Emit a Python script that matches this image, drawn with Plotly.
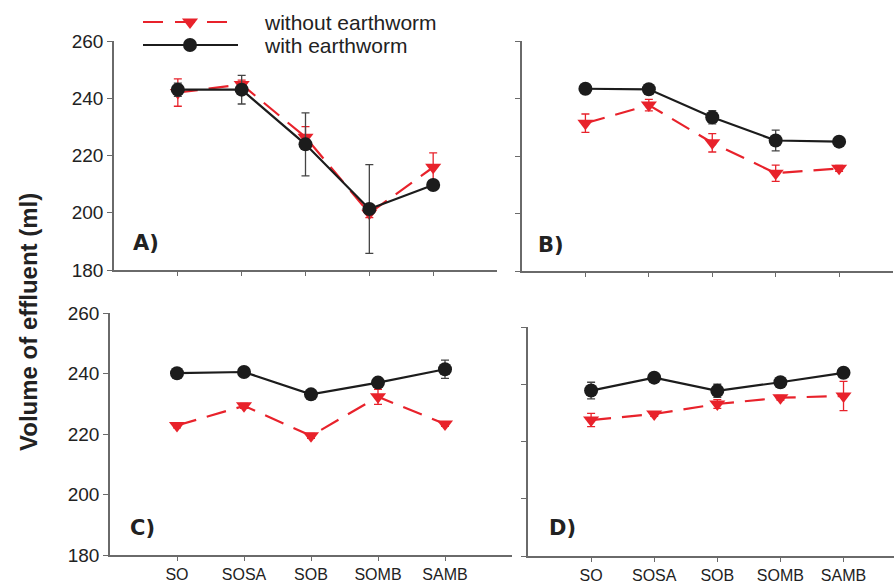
import plotly.graph_objects as go

categories = ["SO", "SOSA", "SOB", "SOMB", "SAMB"]
y_ticks = [180, 200, 220, 240, 260]

# Panel A
A_without = [242.0, 244.8, 226.4, 199.8, 215.9]
A_without_err = [4.8, 1.5, 3.7, 1.5, 5.0]
A_with = [243.0, 243.0, 223.9, 201.3, 209.7]
A_with_err = [2.3, 5.0, 11.0, 15.5, 0.8]
# Panel B
B_without = [231.4, 237.7, 224.6, 214.0, 215.7]
B_without_err = [3.2, 2.0, 3.2, 2.8, 1.0]
B_with = [243.4, 243.2, 233.5, 225.4, 225.0]
B_with_err = [0.8, 0.8, 2.3, 3.6, 0.8]
# Panel C
C_without = [222.8, 229.3, 219.4, 232.3, 223.3]
C_without_err = [0.8, 0.8, 0.8, 2.5, 0.8]
C_with = [240.1, 240.5, 233.1, 237.0, 241.4]
C_with_err = [1.0, 0.8, 1.2, 1.2, 3.0]
# Panel D
D_without = [227.5, 229.6, 233.1, 235.3, 235.9]
D_without_err = [2.3, 0.8, 1.5, 0.8, 5.1]
D_with = [237.8, 242.3, 237.7, 240.7, 244.0]
D_with_err = [2.9, 0.8, 2.3, 0.8, 1.5]

legend_names = ["without earthworm", "with earthworm"]
panel_labels = ["A)", "B)", "C)", "D)"]

RED = "#e8222b"
BLACK = "#1c1c1c"
AXIS = "#6a6a6a"
W, H = 895, 584

def px_x(p):
    return p / W

def px_y(p):
    return 1 - p / H

fig = go.Figure()

panels = [
    (A_without, A_without_err, A_with, A_with_err),
    (B_without, B_without_err, B_with, B_with_err),
    (C_without, C_without_err, C_with, C_with_err),
    (D_without, D_without_err, D_with, D_with_err),
]
# pixel boxes (left, right, top, bottom)
boxes = [(114, 497, 41, 270), (522, 893, 41, 271), (110, 512, 313, 555), (528, 894, 327, 556)]
xranges = [[-1, 5.0], [-1, 4.85], [-1, 5.0], [-1, 4.8]]
xs = list(range(len(categories)))

for i, (wo, woe, wi, wie) in enumerate(panels):
    ax = "" if i == 0 else str(i + 1)
    fig.add_trace(go.Scatter(
        x=xs, y=wo, xaxis="x" + ax, yaxis="y" + ax, mode="lines+markers",
        line=dict(color=RED, width=2.2, dash="20px,11px"),
        marker=dict(symbol="triangle-down", size=14, color=RED),
        error_y=dict(type="data", array=woe, color=RED, thickness=1.3, width=4),
        showlegend=False, cliponaxis=False))
    fig.add_trace(go.Scatter(
        x=xs, y=wi, xaxis="x" + ax, yaxis="y" + ax, mode="lines+markers",
        line=dict(color=BLACK, width=2.2),
        marker=dict(symbol="circle", size=14, color=BLACK),
        error_y=dict(type="data", array=wie, color="#444444", thickness=1.3, width=4),
        showlegend=False, cliponaxis=False))

layout = dict(width=W, height=H, margin=dict(l=0, r=0, t=0, b=0, pad=0, autoexpand=False),
              plot_bgcolor="rgba(0,0,0,0)", paper_bgcolor="white", showlegend=False,
              font=dict(family="Liberation Sans, Arial, sans-serif", color="#222222"))

for i, (l, r, t, b) in enumerate(boxes):
    ax = "" if i == 0 else str(i + 1)
    show_xlab = i >= 2
    show_ylab = i in (0, 2)
    layout["xaxis" + ax] = dict(
        domain=[px_x(l), px_x(r)], range=xranges[i], anchor="y" + ax, automargin=False,
        tickmode="array", tickvals=xs, ticktext=categories,
        showticklabels=show_xlab, ticks="outside", ticklen=4, tickcolor=AXIS, tickwidth=1.3,
        showline=True, linecolor=AXIS, linewidth=1.6, showgrid=False, zeroline=False,
        tickfont=dict(size=16, color="#222222"))
    layout["yaxis" + ax] = dict(
        domain=[px_y(b), px_y(t)], range=[180, 260], anchor="x" + ax, automargin=False,
        tickmode="array", tickvals=y_ticks, showticklabels=show_ylab,
        ticks="outside", ticklen=5, tickcolor=AXIS, tickwidth=1.3,
        showline=True, linecolor=AXIS, linewidth=1.6, showgrid=False, zeroline=False,
        tickfont=dict(size=19, color="#222222"))

# overlay axis in pixel units for the custom legend
layout["xaxis5"] = dict(domain=[0, 1], range=[0, W], anchor="y5", visible=False,
                        fixedrange=True, automargin=False)
layout["yaxis5"] = dict(domain=[0, 1], range=[H, 0], anchor="x5", visible=False,
                        fixedrange=True, automargin=False)
fig.update_layout(**layout)

leg_y = [22, 45]
fig.add_trace(go.Scatter(x=[143, 229], y=[leg_y[0]] * 2, xaxis="x5", yaxis="y5", mode="lines",
                         line=dict(color=RED, width=2.2, dash="20px,12px"), showlegend=False, hoverinfo="skip"))
fig.add_trace(go.Scatter(x=[190], y=[leg_y[0]], xaxis="x5", yaxis="y5", mode="markers",
                         marker=dict(symbol="triangle-down", size=14, color=RED), showlegend=False, hoverinfo="skip"))
fig.add_trace(go.Scatter(x=[143, 238], y=[leg_y[1]] * 2, xaxis="x5", yaxis="y5", mode="lines",
                         line=dict(color=BLACK, width=2.2), showlegend=False, hoverinfo="skip"))
fig.add_trace(go.Scatter(x=[190], y=[leg_y[1]], xaxis="x5", yaxis="y5", mode="markers",
                         marker=dict(symbol="circle", size=14, color=BLACK), showlegend=False, hoverinfo="skip"))

annotations = []
for name, yy in zip(legend_names, leg_y):
    annotations.append(dict(x=px_x(262), y=px_y(yy), xref="paper", yref="paper", text=name,
                            showarrow=False, xanchor="left", yanchor="middle",
                            font=dict(size=21, color="#222222")))

label_pos = [(146, 243), (551, 245), (142, 528), (562, 528)]
for lab, (lx, ly) in zip(panel_labels, label_pos):
    annotations.append(dict(x=px_x(lx), y=px_y(ly), xref="paper", yref="paper", text="<b>" + lab + "</b>",
                            showarrow=False, xanchor="center", yanchor="middle",
                            font=dict(size=21, color="#222222", family="DejaVu Sans, Verdana, sans-serif")))

annotations.append(dict(x=px_x(28), y=px_y(322), xref="paper", yref="paper",
                        text="<b>Volume of effluent (ml)</b>", textangle=-90, showarrow=False,
                        xanchor="center", yanchor="middle",
                        font=dict(size=24, color="#222222", family="Liberation Sans, Arial, sans-serif")))
fig.update_layout(annotations=annotations)

fig.write_html("out.html", config={"displayModeBar": False},
               post_script="document.body.style.margin='0';document.body.style.overflow='hidden';")
